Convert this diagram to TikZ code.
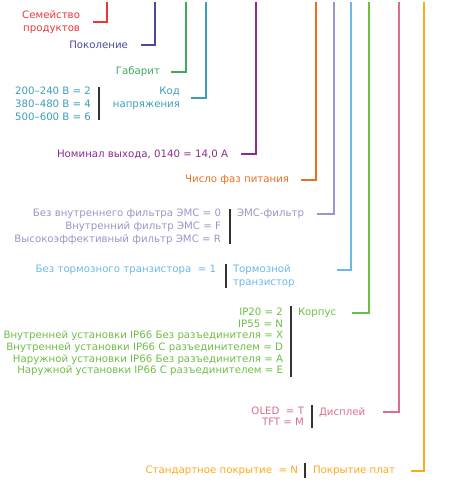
\documentclass[tikz,border=0pt]{standalone}
\usepackage{fontspec}
\setmainfont{DejaVu Sans}
\usetikzlibrary{positioning}

\definecolor{cFam}{HTML}{E8363A}
\definecolor{cGen}{HTML}{4A4AA0}
\definecolor{cSize}{HTML}{3DAA5C}
\definecolor{cVolt}{HTML}{3D9CBB}
\definecolor{cOut}{HTML}{8C2B8C}
\definecolor{cPhase}{HTML}{E8701E}
\definecolor{cEmc}{HTML}{9D94C9}
\definecolor{cBrake}{HTML}{6CB9E8}
\definecolor{cCase}{HTML}{6DBE45}
\definecolor{cDisp}{HTML}{DB6F8A}
\definecolor{cCoat}{HTML}{FBAA19}

\begin{document}
\begin{tikzpicture}[
    x=1pt, y=-1pt,
    every node/.style={font=\fontsize{10.2}{13}\selectfont, inner sep=0pt, outer sep=0pt},
    val/.style={anchor=east, align=right, text=#1},
    lab/.style={anchor=west, align=left, text=#1},
    lead/.style 2 args={draw=#1, line width=2.2pt, shorten <=#2},
    sep/.style={draw=black!80, line width=1.1pt}
]
\useasboundingbox (0,0) rectangle (453,483);

\node [val=cFam] (fam) at (80,22) {Семейство\\продуктов};
\node [val=cGen] (gen) at (128,45) {Поколение};
\node [val=cSize] (size) at (160,72) {Габарит};
\node [val=cVolt] (volt) at (180,98) {Код\\напряжения};
\node [val=cVolt] (voltv) at (91,104) {200–240 В = 2\\380–480 В = 4\\500–600 В = 6};
\node [val=cOut] (out) at (228,154) {Номинал выхода, 0140 = 14,0 А};
\node [val=cPhase] (phase) at (289,180) {Число фаз питания};
\node [val=cEmc] (emcv) at (221,227) {Без внутреннего фильтра ЭМС = 0\\Внутренний фильтр ЭМС = F\\Высокоэффективный фильтр ЭМС = R};
\node [lab=cEmc] (emc) at (237,214) {ЭМС-фильтр};
\node [val=cBrake] (brakev) at (216,270) {Без тормозного транзистора~ = 1};
\node [lab=cBrake] (brake) at (233,276.5) {Тормозной\\транзистор};
\node [val=cCase, font=\fontsize{10.2}{11.6}\selectfont] (casev) at (283,342) {IP20 = 2\\IP55 = N\\Внутренней установки IP66 Без разъединителя = X\\Внутренней установки IP66 С разъединителем = D\\Наружной установки IP66 Без разъединителя = A\\Наружной установки IP66 С разъединителем = E};
\node [lab=cCase] (case) at (298,313) {Корпус};
\node [val=cDisp, font=\fontsize{10.2}{11}\selectfont] (dispv) at (304,416.5) {OLED~ = T\\TFT = M};
\node [lab=cDisp] (disp) at (319,412) {Дисплей};
\node [val=cCoat] (coatv) at (298,471) {Стандартное покрытие~ = N};
\node [lab=cCoat] (coat) at (313,471) {Покрытие плат};

\coordinate (fam-top) at (107,2);
\coordinate (gen-top) at (155,2);
\coordinate (size-top) at (186,2);
\coordinate (volt-top) at (206,2);
\coordinate (out-top) at (256,2);
\coordinate (phase-top) at (316,2);
\coordinate (emc-top) at (334,2);
\coordinate (brake-top) at (351,2);
\coordinate (case-top) at (369,2);
\coordinate (disp-top) at (399,2);
\coordinate (coat-top) at (424,2);

\draw [lead={cFam}{13pt}] (fam) -| (fam-top);
\draw [lead={cGen}{13pt}] (gen) -| (gen-top);
\draw [lead={cSize}{11pt}] (size) -| (size-top);
\draw [lead={cVolt}{11pt}] (volt) -| (volt-top);
\draw [lead={cOut}{13pt}] (out) -| (out-top);
\draw [lead={cPhase}{12pt}] (phase) -| (phase-top);
\draw [lead={cEmc}{13pt}] (emc) -| (emc-top);
\draw [lead={cBrake}{42pt}] ([yshift=6.5pt]brake.east) -| (brake-top);
\draw [lead={cCase}{16pt}] (case) -| (case-top);
\draw [lead={cDisp}{18pt}] (disp) -| (disp-top);
\draw [lead={cCoat}{16pt}] (coat) -| (coat-top);

\draw [sep] (99,87) -- (99,120);
\draw [sep] (230,209) -- (230,244);
\draw [sep] (226,264) -- (226,288);
\draw [sep] (291,306) -- (291,377);
\draw [sep] (312,405) -- (312,428);
\draw [sep] (305,463) -- (305,478);
\end{tikzpicture}
\end{document}
